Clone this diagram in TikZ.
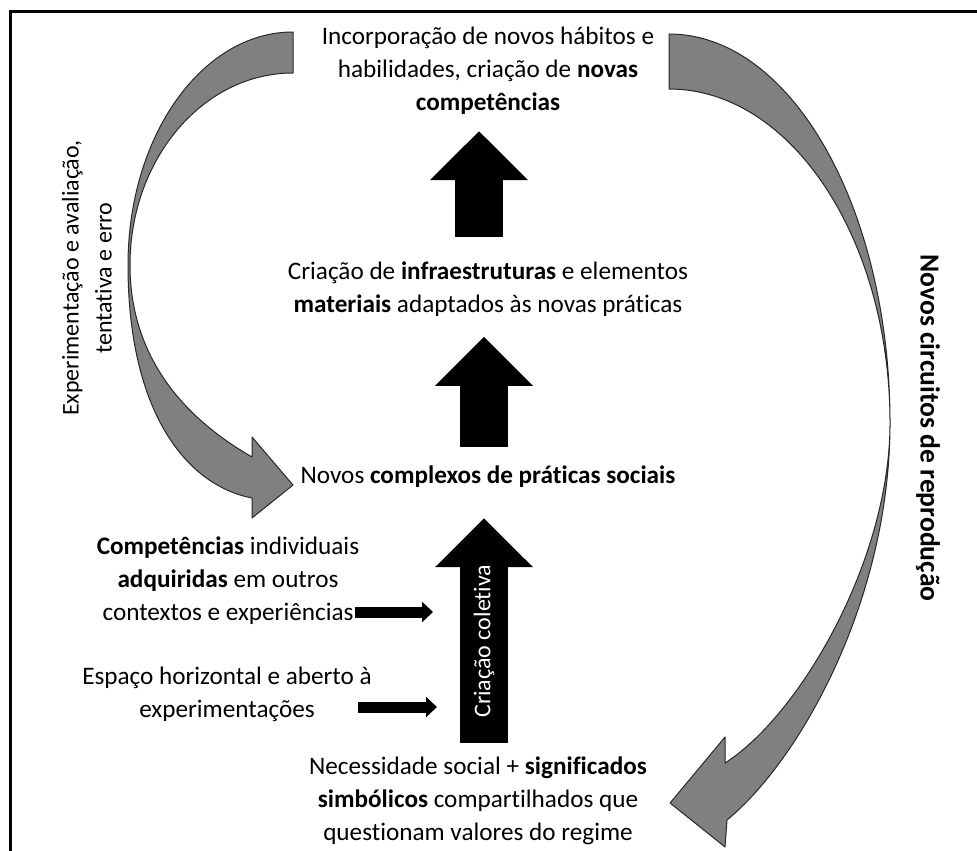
\documentclass[tikz,border=0pt]{standalone}
\usepackage{fontspec}
\setmainfont{Carlito}[Ligatures={NoCommon,NoRequired,NoContextual},Contextuals=NoAlternate]
\usepackage{xcolor}
\definecolor{ciGray}{RGB}{128,128,128}
\definecolor{ciLine}{RGB}{40,40,40}
\usepackage{tikz}
\usetikzlibrary{arrows.meta}

\begin{document}
\begin{tikzpicture}[x=0.5pt,y=-0.5pt,
  t/.style={align=center,font=\fontsize{12.6}{16.5}\selectfont,inner sep=0pt},
  big/.style={-{Triangle[length=24.5pt,width=47.5pt]},line width=24pt,black},
  sm/.style={-{Triangle[length=5.5pt,width=10pt]},line width=5.5pt,black},
  crv/.style={draw=ciLine,fill=ciGray,line width=0.5pt,line join=round}]
  \useasboundingbox (0,0) rectangle (977,850);
  \draw[line width=1.5pt] (10,852) -- (10,12) -- (979,12);
  \node[t] (comp) at (488,71) {Incorporação de novos hábitos e\\habilidades, criação de \textbf{novas}\\\textbf{competências}};
  \node[t] (infra) at (488,289) {Criação de \textbf{infraestruturas} e elementos\\\textbf{materiais} adaptados às novas práticas};
  \node[t] (prat) at (488,477) {Novos \textbf{complexos de práticas sociais}};
  \node[t] (indiv) at (228,581) {\textbf{Competências} individuais\\\textbf{adquiridas} em outros\\contextos e experiências};
  \node[t] (esp) at (227,694) {Espaço horizontal e aberto à\\experimentações};
  \node[t] (nec) at (478,801) {Necessidade social + \textbf{significados}\\\textbf{simbólicos} compartilhados que\\questionam valores do regime};
  \node[t,rotate=90,font=\fontsize{12}{16.5}\selectfont] (exp) at (87,278) {Experimentação e avaliação,\\tentativa e erro};
  \node[t,rotate=-90,font=\fontsize{13.8}{16.5}\selectfont\bfseries] (circ) at (928,428) {Novos circuitos de reprodução};
  \coordinate (ina) at (433,612);
  \coordinate (inb) at (437,707);
  \coordinate (inbs) at (358,707);
  \draw[big,shorten <=12pt,shorten >=8pt] ([xshift=-4.5pt]infra.north) -- ([xshift=-4.5pt]comp.south);
  \draw[big,shorten <=9.5pt,shorten >=10pt] ([xshift=-2pt]prat.north) -- ([xshift=-2pt]infra.south);
  \draw[big,shorten <=7pt,shorten >=15pt] ([xshift=3pt]nec.north) -- node[pos=0.43,sloped,text=white,font=\fontsize{12}{14}\selectfont]{Criação coletiva} ([xshift=-2pt]prat.south);
  \draw[sm] ([xshift=-2.5pt,yshift=-15.5pt]indiv.east) -- (ina);
  \draw[sm] (inbs) -- (inb);
  \draw[crv] (293,32) .. controls (202,32) and (128,136) .. (128,265)
    .. controls (128,410) and (185,485) .. (252,498)
    -- (252,518) -- (293,485) -- (252,437) -- (252,457)
    .. controls (200,427) and (130,370) .. (130,265)
    .. controls (130,159) and (203,73) .. (293,73) -- cycle;
  \draw[crv] (669,34) .. controls (791,34) and (890,208) .. (890,423)
    .. controls (890,600) and (800,760) .. (727,820)
    -- (725,847) -- (670,803) -- (725,737) -- (725,763)
    .. controls (800,715) and (890,560) .. (890,423)
    .. controls (890,239) and (791,89) .. (669,89) -- cycle;
\end{tikzpicture}
\end{document}
